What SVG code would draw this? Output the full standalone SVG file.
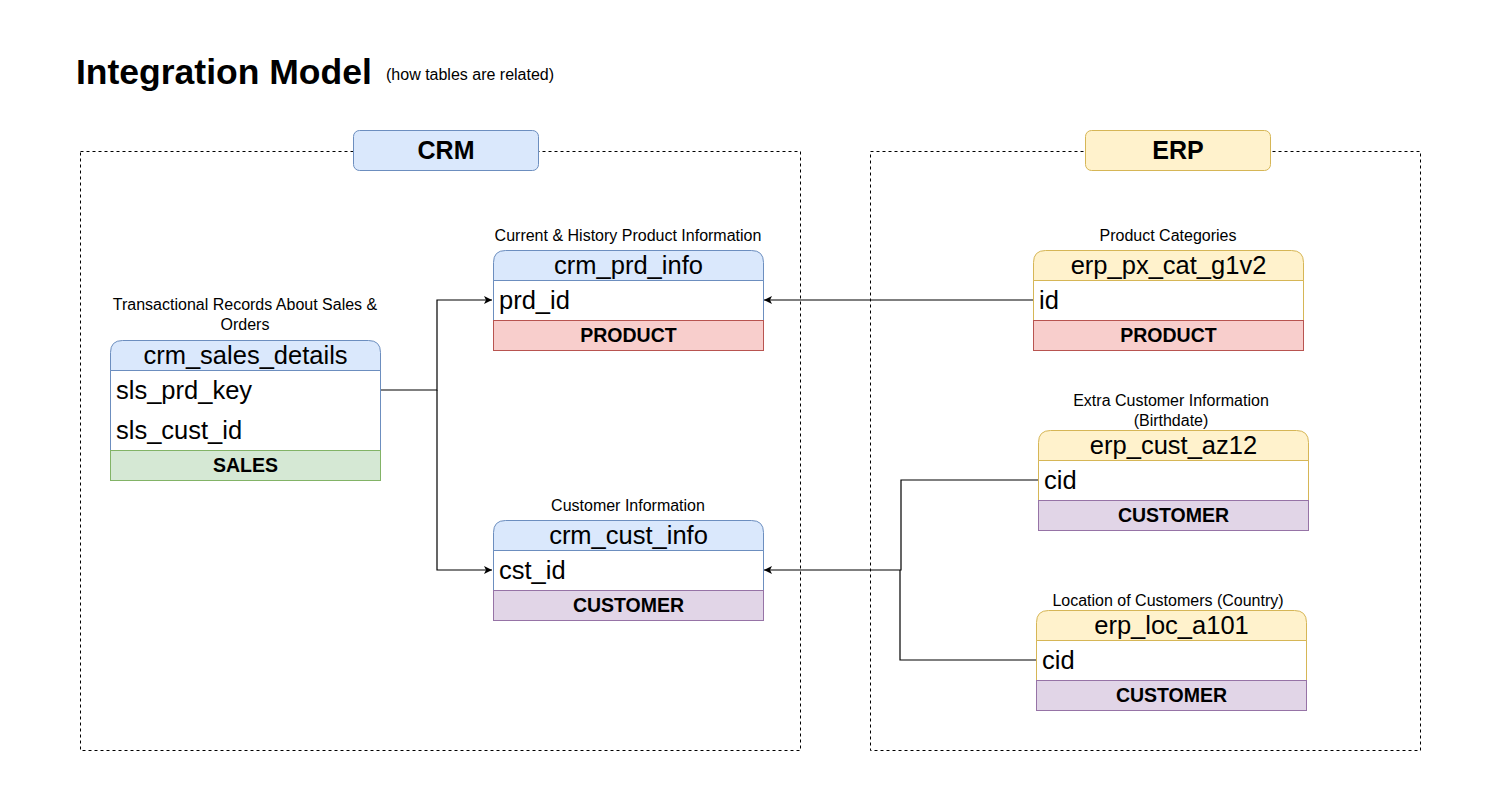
<svg xmlns="http://www.w3.org/2000/svg" width="1500" height="810" viewBox="0 0 1500 810">
<defs>
<style>
text{font-family:"Liberation Sans",Arial,sans-serif;fill:#000}
.title{font-size:35.5px;font-weight:bold}
.sub{font-size:16px}
.grp{font-size:25px;font-weight:bold;text-anchor:middle}
.lbl{font-size:16px;text-anchor:middle}
.hd{font-size:25.5px;text-anchor:middle}
.row{font-size:25.5px}
.ft{font-size:19.5px;font-weight:bold;text-anchor:middle}
.cont{fill:none;stroke:#000;stroke-width:1;stroke-dasharray:3 3}
.conn{fill:none;stroke:#000;stroke-width:1.2}
.blueH{fill:#dae8fc;stroke:#6c8ebf}
.blueB{fill:#fff;stroke:#6c8ebf}
.yelH{fill:#fff2cc;stroke:#d6b656}
.yelB{fill:#fff;stroke:#d6b656}
.red{fill:#f8cecc;stroke:#b85450}
.grn{fill:#d5e8d4;stroke:#82b366}
.pur{fill:#e1d5e7;stroke:#9673a6}
</style>
<marker id="arr" markerWidth="10" markerHeight="10" refX="8" refY="4" orient="auto" markerUnits="userSpaceOnUse">
<path d="M0,0 L8,4 L0,8 L2,4 z" fill="#000"/>
</marker>
</defs>

<g id="title">
<text class="title" x="76" y="84">Integration Model</text>
<text class="sub" x="386" y="80">(how tables are related)</text>
</g>

<g id="crm-container">
<rect class="cont" x="80.5" y="151.5" width="720" height="599"/>
<rect class="blueH" x="353.5" y="130.5" width="185" height="40" rx="6"/>
<text class="grp" x="446" y="159">CRM</text>
</g>

<g id="erp-container">
<rect class="cont" x="870.5" y="151.5" width="550" height="599"/>
<rect class="yelH" x="1085.5" y="130.5" width="185" height="40" rx="6"/>
<text class="grp" x="1178" y="159">ERP</text>
</g>

<g id="connectors">
<polyline class="conn" points="380,390 437,390 437,300 492,300" marker-end="url(#arr)"/>
<polyline class="conn" points="437,390 437,570 492,570" marker-end="url(#arr)"/>
<polyline class="conn" points="1033,300 764,300" marker-end="url(#arr)"/>
<polyline class="conn" points="1038,480 901,480 901,570 764,570" marker-end="url(#arr)"/>
<polyline class="conn" points="1036,660 900,660 900,570"/>
</g>

<g id="crm_sales_details">
<text class="lbl" x="245" y="310">Transactional Records About Sales &amp;</text>
<text class="lbl" x="245" y="330">Orders</text>
<rect class="blueB" x="110.5" y="370.5" width="270" height="80"/>
<path class="blueH" d="M110.5,370.5 V352.5 Q110.5,340.5 122.5,340.5 H368.5 Q380.5,340.5 380.5,352.5 V370.5 Z"/>
<text class="hd" x="245.5" y="364">crm_sales_details</text>
<text class="row" x="116" y="399">sls_prd_key</text>
<text class="row" x="116" y="439">sls_cust_id</text>
<rect class="grn" x="110.5" y="450.5" width="270" height="30"/>
<text class="ft" x="245.5" y="472">SALES</text>
</g>

<g id="crm_prd_info">
<text class="lbl" x="628" y="241">Current &amp; History Product Information</text>
<rect class="blueB" x="493.5" y="280.5" width="270" height="40"/>
<path class="blueH" d="M493.5,280.5 V262.5 Q493.5,250.5 505.5,250.5 H751.5 Q763.5,250.5 763.5,262.5 V280.5 Z"/>
<text class="hd" x="628.5" y="274">crm_prd_info</text>
<text class="row" x="499" y="309">prd_id</text>
<rect class="red" x="493.5" y="320.5" width="270" height="30"/>
<text class="ft" x="628.5" y="342">PRODUCT</text>
</g>

<g id="crm_cust_info">
<text class="lbl" x="628" y="511">Customer Information</text>
<rect class="blueB" x="493.5" y="550.5" width="270" height="40"/>
<path class="blueH" d="M493.5,550.5 V532.5 Q493.5,520.5 505.5,520.5 H751.5 Q763.5,520.5 763.5,532.5 V550.5 Z"/>
<text class="hd" x="628.5" y="544">crm_cust_info</text>
<text class="row" x="499" y="579">cst_id</text>
<rect class="pur" x="493.5" y="590.5" width="270" height="30"/>
<text class="ft" x="628.5" y="612">CUSTOMER</text>
</g>

<g id="erp_px_cat_g1v2">
<text class="lbl" x="1168" y="241">Product Categories</text>
<rect class="yelB" x="1033.5" y="280.5" width="270" height="40"/>
<path class="yelH" d="M1033.5,280.5 V262.5 Q1033.5,250.5 1045.5,250.5 H1291.5 Q1303.5,250.5 1303.5,262.5 V280.5 Z"/>
<text class="hd" x="1168.5" y="274">erp_px_cat_g1v2</text>
<text class="row" x="1039" y="309">id</text>
<rect class="red" x="1033.5" y="320.5" width="270" height="30"/>
<text class="ft" x="1168.5" y="342">PRODUCT</text>
</g>

<g id="erp_cust_az12">
<text class="lbl" x="1171" y="406">Extra Customer Information</text>
<text class="lbl" x="1171" y="426">(Birthdate)</text>
<rect class="yelB" x="1038.5" y="460.5" width="270" height="40"/>
<path class="yelH" d="M1038.5,460.5 V442.5 Q1038.5,430.5 1050.5,430.5 H1296.5 Q1308.5,430.5 1308.5,442.5 V460.5 Z"/>
<text class="hd" x="1173.5" y="454">erp_cust_az12</text>
<text class="row" x="1044" y="489">cid</text>
<rect class="pur" x="1038.5" y="500.5" width="270" height="30"/>
<text class="ft" x="1173.5" y="522">CUSTOMER</text>
</g>

<g id="erp_loc_a101">
<text class="lbl" x="1168" y="606">Location of Customers (Country)</text>
<rect class="yelB" x="1036.5" y="640.5" width="270" height="40"/>
<path class="yelH" d="M1036.5,640.5 V622.5 Q1036.5,610.5 1048.5,610.5 H1294.5 Q1306.5,610.5 1306.5,622.5 V640.5 Z"/>
<text class="hd" x="1171.5" y="634">erp_loc_a101</text>
<text class="row" x="1042" y="669">cid</text>
<rect class="pur" x="1036.5" y="680.5" width="270" height="30"/>
<text class="ft" x="1171.5" y="702">CUSTOMER</text>
</g>
</svg>
